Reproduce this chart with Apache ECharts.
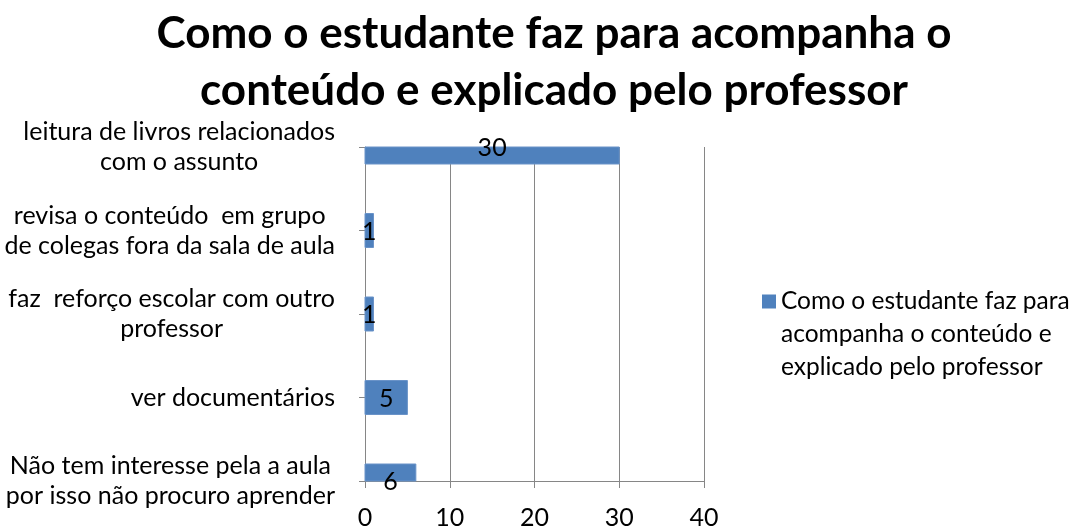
<!DOCTYPE html>
<html>
<head>
<meta charset="utf-8">
<script src="https://cdn.jsdelivr.net/npm/echarts@6/dist/echarts.min.js"></script>
<style>
  html, body { margin: 0; padding: 0; background: #fff; }
  #chart { width: 1078px; height: 530px; }
</style>
</head>
<body>
<div id="chart"></div>
<script>
// categories from bottom to top, as on the axis
var categories = [
    'Não tem interesse pela a aula\npor isso não procuro aprender',
    'ver documentários',
    'faz  reforço escolar com outro\nprofessor',
    'revisa o conteúdo  em grupo\nde colegas fora da sala de aula',
    'leitura de livros relacionados\ncom o assunto'
];
var values = [6, 5, 1, 1, 30];
var xTicks = [0, 10, 20, 30, 40];
var seriesName = 'Como o estudante faz para acompanha o conteúdo e explicado pelo professor';
var legendLines = ['Como o estudante faz para', 'acompanha o conteúdo e', 'explicado pelo professor'];
var titleText = 'Como o estudante faz para acompanha o\nconteúdo e explicado pelo professor';

var font = 'Lato, "Open Sans", sans-serif';
var barColor = '#4F81BD';
var myChart = echarts.init(document.getElementById('chart'));

// bars sit on the category ticks (Excel style) and get cut at the plot edge,
// the value label stays at the centre of the whole bar
function renderBar(params, api) {
    var idx = api.value(1);
    var v = api.value(0);
    var start = api.coord([0, idx]);
    var end = api.coord([v, idx]);
    var h = 34;
    var full = { x: start[0], y: start[1] - h / 2, width: end[0] - start[0], height: h };
    var cs = params.coordSys;
    var shape = echarts.graphic.clipRectByRect(full, { x: cs.x, y: cs.y, width: cs.width, height: cs.height });
    var children = [];
    if (shape) {
        children.push({
            type: 'rect',
            shape: shape,
            style: { fill: api.visual('color'), stroke: '#6A93C8', lineWidth: 1 }
        });
    }
    children.push({
        type: 'text',
        x: start[0] + full.width / 2,
        y: start[1] + 1,
        style: {
            text: String(v),
            align: 'center',
            verticalAlign: 'middle',
            fontFamily: font,
            fontSize: 25,
            fill: '#000'
        }
    });
    return { type: 'group', children: children };
}

var option = {
    animation: false,
    title: {
        text: titleText,
        left: 549,
        top: 0,
        textAlign: 'center',
        textStyle: {
            fontFamily: font,
            fontWeight: 'bold',
            fontSize: 44,
            lineHeight: 57,
            color: '#000'
        }
    },
    legend: {
        data: [seriesName],
        orient: 'vertical',
        left: 762,
        top: 219,
        padding: 0,
        icon: 'rect',
        itemWidth: 14,
        itemHeight: 14,
        // two empty lines on top so the marker lines up with the first line
        formatter: function () { return '\n\n' + legendLines.join('\n'); },
        textStyle: {
            fontFamily: font,
            fontSize: 24.5,
            lineHeight: 33,
            color: '#000'
        }
    },
    grid: {
        left: 365,
        right: 374,
        top: 147,
        bottom: 44
    },
    xAxis: {
        type: 'value',
        min: xTicks[0],
        max: xTicks[xTicks.length - 1],
        interval: xTicks[1] - xTicks[0],
        axisLine: { show: true, lineStyle: { color: '#868686' } },
        axisTick: { show: true, length: 7, lineStyle: { color: '#868686' } },
        splitLine: { show: true, lineStyle: { color: '#868686' } },
        axisLabel: {
            fontFamily: font,
            fontSize: 25,
            color: '#000',
            margin: 24
        }
    },
    yAxis: {
        type: 'category',
        data: categories,
        boundaryGap: false,
        axisLine: { show: true, lineStyle: { color: '#868686' } },
        axisTick: { show: true, length: 6, lineStyle: { color: '#868686' } },
        splitLine: { show: false },
        axisLabel: {
            margin: 30,
            align: 'right',
            fontFamily: font,
            fontSize: 25,
            color: '#000',
            formatter: function (v) {
                return v.split('\n').map(function (l) { return '{c|' + l + '}'; }).join('\n');
            },
            rich: {
                c: {
                    align: 'center',
                    fontFamily: font,
                    fontSize: 25,
                    lineHeight: 30,
                    color: '#000'
                }
            }
        }
    },
    series: [
        {
            name: seriesName,
            type: 'custom',
            renderItem: renderBar,
            itemStyle: { color: barColor },
            encode: { x: 0, y: 1 },
            data: values.map(function (v, i) { return [v, i]; })
        }
    ]
};
myChart.setOption(option);
</script>
</body>
</html>
